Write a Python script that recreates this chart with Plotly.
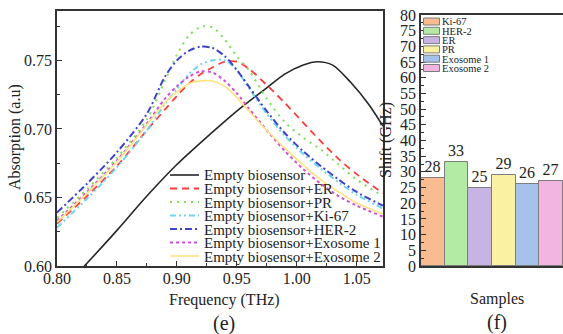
import plotly.graph_objects as go

# ---------------- data ----------------
freq_empty = [0.80, 0.825, 0.85, 0.875, 0.90, 0.925, 0.95, 0.975, 0.99, 1.005, 1.0175, 1.03, 1.045, 1.06, 1.072]
abs_empty = [0.579, 0.602, 0.626, 0.651, 0.674, 0.694, 0.713, 0.730, 0.740, 0.7465, 0.749, 0.7465, 0.734, 0.718, 0.702]

freq = [0.80, 0.825, 0.85, 0.875, 0.89, 0.90, 0.91, 0.92, 0.93, 0.94, 0.95, 0.96, 0.975, 0.99, 1.005, 1.02, 1.035, 1.05, 1.072]
abs_er = [0.631, 0.651, 0.673, 0.699, 0.714, 0.724, 0.733, 0.740, 0.745, 0.749, 0.749, 0.744, 0.732, 0.719, 0.705, 0.691, 0.678, 0.667, 0.653]
abs_pr = [0.635, 0.656, 0.679, 0.707, 0.735, 0.754, 0.768, 0.7745, 0.774, 0.765, 0.753, 0.743, 0.722, 0.705, 0.694, 0.685, 0.674, 0.663, 0.651]
abs_ki67 = [0.628, 0.649, 0.672, 0.699, 0.718, 0.729, 0.740, 0.747, 0.750, 0.750, 0.743, 0.730, 0.711, 0.695, 0.682, 0.671, 0.661, 0.652, 0.642]
abs_her2 = [0.639, 0.660, 0.683, 0.711, 0.738, 0.750, 0.757, 0.760, 0.759, 0.753, 0.743, 0.731, 0.713, 0.697, 0.684, 0.673, 0.663, 0.654, 0.644]
abs_exo1 = [0.633, 0.654, 0.677, 0.704, 0.722, 0.731, 0.738, 0.742, 0.741, 0.735, 0.726, 0.715, 0.699, 0.684, 0.671, 0.660, 0.651, 0.644, 0.636]
abs_exo2 = [0.632, 0.653, 0.676, 0.703, 0.719, 0.727, 0.733, 0.735, 0.735, 0.731, 0.723, 0.713, 0.699, 0.686, 0.674, 0.663, 0.654, 0.646, 0.638]

samples = ["Ki-67", "HER-2", "ER", "PR", "Exosome 1", "Exosome 2"]
shifts = [28, 33, 25, 29, 26, 27]

x_ticks = [0.80, 0.85, 0.90, 0.95, 1.00, 1.05]
y_ticks = [0.60, 0.65, 0.70, 0.75]
shift_ticks = list(range(0, 85, 5))

# ---------------- styles ----------------
W, H = 563, 334
FONT = "Liberation Serif"

def px(x):
    return x / W

def py(y):
    return 1 - y / H

series = [
    ("Empty biosensor", freq_empty, abs_empty, "#262626", "solid", 1.6),
    ("Empty biosensor+ER", freq, abs_er, "#ff3b3b", "7px,5px", 1.8),
    ("Empty biosensor+PR", freq, abs_pr, "#7ee05c", "2px,5px", 2.0),
    ("Empty biosensor+Ki-67", freq, abs_ki67, "#6fd6ee", "6px,3px,2px,3px,2px,3px", 2.0),
    ("Empty biosensor+HER-2", freq, abs_her2, "#3f43cc", "7px,3px,2px,3px", 2.0),
    ("Empty biosensor+Exosome 1", freq, abs_exo1, "#d14fdc", "3px,3px", 2.0),
    ("Empty biosensor+Exosome 2", freq, abs_exo2, "#ffe37f", "solid", 1.6),
]

bar_colors = ["#f8bc90", "#b3eba5", "#c8b4e3", "#fbf1a3", "#a4c2ea", "#f2b5e2"]

fig = go.Figure()

for name, xs, ys, col, dash, w in series:
    fig.add_trace(go.Scatter(
        x=xs, y=ys, mode="lines", name=name,
        line=dict(color=col, dash=dash, width=w, shape="spline", smoothing=0.8),
        showlegend=False, xaxis="x", yaxis="y",
    ))

fig.add_trace(go.Bar(
    x=samples, y=shifts, marker=dict(color=bar_colors, line=dict(color="#7d7d7d", width=1)),
    text=[str(v) for v in shifts], textposition="outside", cliponaxis=False,
    textfont=dict(family=FONT, size=16, color="#222"),
    showlegend=False, xaxis="x2", yaxis="y2",
))

axis_line = dict(showline=True, linecolor="#333", linewidth=1.5, mirror=True,
                 showgrid=False, zeroline=False, ticks="inside", tickcolor="#333",
                 automargin=False,
                 tickfont=dict(family=FONT, size=16, color="#222"))

fig.update_layout(
    width=W, height=H, margin=dict(l=0, r=0, t=0, b=0),
    paper_bgcolor="white", plot_bgcolor="white",
    bargap=0, font=dict(family=FONT),
    xaxis=dict(domain=[px(57), px(383)], range=[0.80, 1.072], tickvals=x_ticks,
               ticktext=[f"{v:.2f}" for v in x_ticks], ticklen=5, ticklabelstandoff=-3,
               minor=dict(ticks="inside", ticklen=3, dtick=0.025, tick0=0.8, tickcolor="#333"),
               anchor="y", **axis_line),
    yaxis=dict(domain=[py(266), py(11)], range=[0.60, 0.786], tickvals=y_ticks,
               ticktext=[f"{v:.2f}" for v in y_ticks], ticklen=5,
               minor=dict(ticks="inside", ticklen=3, dtick=0.025, tick0=0.6, tickcolor="#333"),
               anchor="x", **axis_line),
    xaxis2=dict(domain=[px(421), 1.0], range=[-0.5, 5.5], showticklabels=False,
                showline=True, linecolor="#333", linewidth=1.5, mirror=True, automargin=False,
                showgrid=False, zeroline=False, ticks="", anchor="y2"),
    yaxis2=dict(domain=[py(266), py(15)], range=[0, 80], tickvals=shift_ticks, ticklen=5,
                minor=dict(ticks="inside", ticklen=3, dtick=2.5, tickcolor="#333"),
                anchor="x2", **axis_line),
)

annotations = []
shapes = []

# axis titles
titles = [
    ("Absorption (a.u)", 15, 137, 16, -90),
    ("Frequency (THz)", 224, 300, 16, 0),
    ("(e)", 224, 323, 20, 0),
    ("Shift (GHz)", 386, 140, 16, -90),
    ("Samples", 497, 299, 16, 0),
    ("(f)", 497, 322, 20, 0),
]
for txt, x, y, s, ang in titles:
    annotations.append(dict(text=txt, x=px(x), y=py(y), xref="paper", yref="paper",
                            showarrow=False, textangle=ang, xanchor="center", yanchor="middle",
                            font=dict(family=FONT, size=s, color="#222")))

# legend for line chart
leg_top, leg_step = 175, 13.5
for i, (name, xs, ys, col, dash, w) in enumerate(series):
    yy = leg_top + i * leg_step
    shapes.append(dict(type="line", xref="paper", yref="paper", x0=px(170), x1=px(199),
                       y0=py(yy), y1=py(yy), line=dict(color=col, dash=dash, width=w)))
    annotations.append(dict(text=name, x=px(202), y=py(yy + 0.5), xref="paper", yref="paper",
                            showarrow=False, xanchor="left", yanchor="middle",
                            font=dict(family=FONT, size=15, color="#222")))

# legend for bar chart
bl_top, bl_step = 21.5, 9.3
for i, (name, col) in enumerate(zip(samples, bar_colors)):
    yy = bl_top + i * bl_step
    shapes.append(dict(type="rect", xref="paper", yref="paper", x0=px(423.5), x1=px(439.5),
                       y0=py(yy - 3.5), y1=py(yy + 3.5), fillcolor=col,
                       line=dict(color="#7d7d7d", width=1)))
    annotations.append(dict(text=name, x=px(440), y=py(yy + 0.5), xref="paper", yref="paper",
                            showarrow=False, xanchor="left", yanchor="middle",
                            font=dict(family=FONT, size=10.5, color="#222")))

fig.update_layout(annotations=annotations, shapes=shapes)

fig.write_html("out.html")
